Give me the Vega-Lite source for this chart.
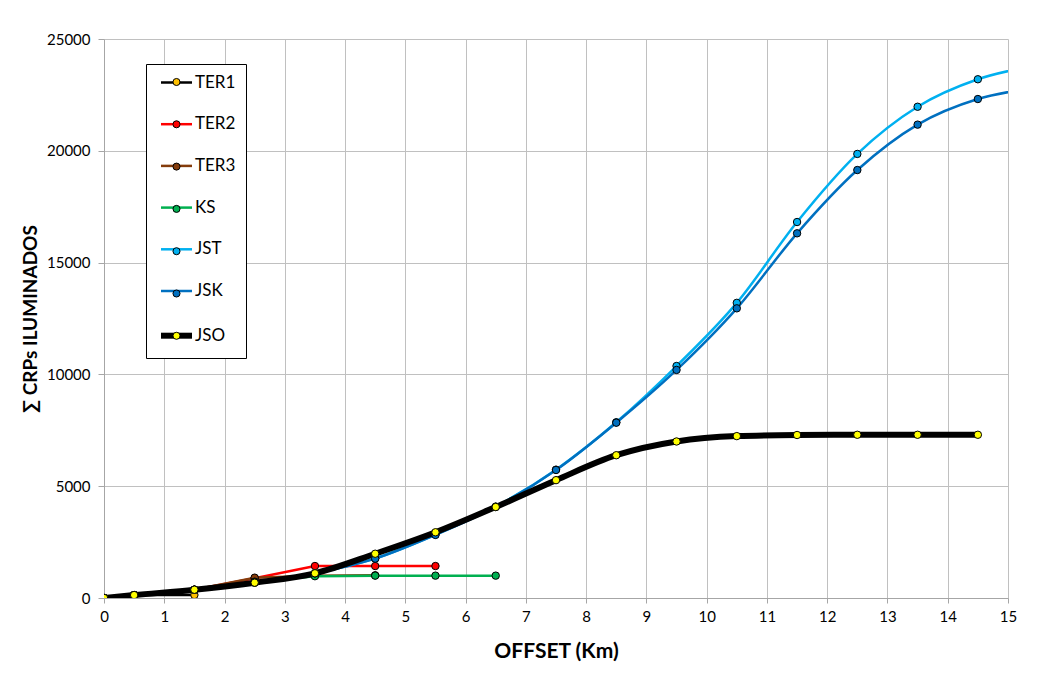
{
  "$schema": "https://vega.github.io/schema/vega-lite/v6.json",
  "width": 904,
  "height": 559,
  "autosize": {"type": "none"},
  "padding": {"left": 104, "top": 39, "right": 32, "bottom": 79},
  "background": "white",
  "config": {
    "font": "Lato",
    "view": {"stroke": null},
    "axis": {"labelFont": "Lato", "titleFont": "Lato", "labelColor": "#000", "titleColor": "#000", "gridColor": "#c0c0c0", "gridWidth": 1, "domainColor": "#a6a6a6", "tickColor": "#a6a6a6"}
  },
  "data": {
    "values": [
      {"series": "TER1", "offset": 0, "crps": 0},
      {"series": "TER1", "offset": 0.5, "crps": 130},
      {"series": "TER1", "offset": 1.5, "crps": 135},
      {"series": "TER2", "offset": 0, "crps": 0},
      {"series": "TER2", "offset": 0.5, "crps": 130},
      {"series": "TER2", "offset": 1.5, "crps": 370},
      {"series": "TER2", "offset": 2.5, "crps": 880},
      {"series": "TER2", "offset": 3.5, "crps": 1430},
      {"series": "TER2", "offset": 4.5, "crps": 1430},
      {"series": "TER2", "offset": 5.5, "crps": 1430},
      {"series": "TER3", "offset": 0, "crps": 0},
      {"series": "TER3", "offset": 0.5, "crps": 130},
      {"series": "TER3", "offset": 1.5, "crps": 370},
      {"series": "TER3", "offset": 2.5, "crps": 910},
      {"series": "TER3", "offset": 3.5, "crps": 1000},
      {"series": "TER3", "offset": 4.5, "crps": 1015},
      {"series": "KS", "offset": 0, "crps": 0},
      {"series": "KS", "offset": 0.5, "crps": 130},
      {"series": "KS", "offset": 1.5, "crps": 370},
      {"series": "KS", "offset": 2.5, "crps": 730},
      {"series": "KS", "offset": 3.5, "crps": 975},
      {"series": "KS", "offset": 4.5, "crps": 1000},
      {"series": "KS", "offset": 5.5, "crps": 1000},
      {"series": "KS", "offset": 6.5, "crps": 1000},
      {"series": "JST", "offset": 0, "crps": 0},
      {"series": "JST", "offset": 0.5, "crps": 130},
      {"series": "JST", "offset": 1.5, "crps": 370},
      {"series": "JST", "offset": 2.5, "crps": 685},
      {"series": "JST", "offset": 3.5, "crps": 1105},
      {"series": "JST", "offset": 4.5, "crps": 1770},
      {"series": "JST", "offset": 5.5, "crps": 2840},
      {"series": "JST", "offset": 6.5, "crps": 4090},
      {"series": "JST", "offset": 7.5, "crps": 5740},
      {"series": "JST", "offset": 8.5, "crps": 7860},
      {"series": "JST", "offset": 9.5, "crps": 10375},
      {"series": "JST", "offset": 10.5, "crps": 13200},
      {"series": "JST", "offset": 11.5, "crps": 16815},
      {"series": "JST", "offset": 12.5, "crps": 19860},
      {"series": "JST", "offset": 13.5, "crps": 21970},
      {"series": "JST", "offset": 14.5, "crps": 23200},
      {"series": "JST", "offset": 15.5, "crps": 23830},
      {"series": "JSK", "offset": 0, "crps": 0},
      {"series": "JSK", "offset": 0.5, "crps": 130},
      {"series": "JSK", "offset": 1.5, "crps": 370},
      {"series": "JSK", "offset": 2.5, "crps": 685},
      {"series": "JSK", "offset": 3.5, "crps": 1105},
      {"series": "JSK", "offset": 4.5, "crps": 1760},
      {"series": "JSK", "offset": 5.5, "crps": 2820},
      {"series": "JSK", "offset": 6.5, "crps": 4070},
      {"series": "JSK", "offset": 7.5, "crps": 5725},
      {"series": "JSK", "offset": 8.5, "crps": 7840},
      {"series": "JSK", "offset": 9.5, "crps": 10200},
      {"series": "JSK", "offset": 10.5, "crps": 12955},
      {"series": "JSK", "offset": 11.5, "crps": 16310},
      {"series": "JSK", "offset": 12.5, "crps": 19140},
      {"series": "JSK", "offset": 13.5, "crps": 21170},
      {"series": "JSK", "offset": 14.5, "crps": 22315},
      {"series": "JSK", "offset": 15.5, "crps": 22830},
      {"series": "JSO", "offset": 0, "crps": 0},
      {"series": "JSO", "offset": 0.5, "crps": 130},
      {"series": "JSO", "offset": 1.5, "crps": 370},
      {"series": "JSO", "offset": 2.5, "crps": 685},
      {"series": "JSO", "offset": 3.5, "crps": 1105},
      {"series": "JSO", "offset": 4.5, "crps": 1980},
      {"series": "JSO", "offset": 5.5, "crps": 2940},
      {"series": "JSO", "offset": 6.5, "crps": 4070},
      {"series": "JSO", "offset": 7.5, "crps": 5270},
      {"series": "JSO", "offset": 8.5, "crps": 6385},
      {"series": "JSO", "offset": 9.5, "crps": 7000},
      {"series": "JSO", "offset": 10.5, "crps": 7240},
      {"series": "JSO", "offset": 11.5, "crps": 7290},
      {"series": "JSO", "offset": 12.5, "crps": 7300},
      {"series": "JSO", "offset": 13.5, "crps": 7300},
      {"series": "JSO", "offset": 14.5, "crps": 7300}
    ]
  },
  "encoding": {
    "x": {
      "field": "offset", "type": "quantitative",
      "scale": {"domain": [0, 15], "nice": false, "zero": false},
      "axis": {"values": [0,1,2,3,4,5,6,7,8,9,10,11,12,13,14,15], "title": "OFFSET (Km)", "titleFontSize": 21, "titleFontWeight": "bold", "titlePadding": 16, "labelFontSize": 15, "labelPadding": 6, "tickSize": 5, "labelFlush": false}
    },
    "y": {
      "field": "crps", "type": "quantitative",
      "scale": {"domain": [0, 25000], "nice": false},
      "axis": {"values": [0, 5000, 10000, 15000, 20000, 25000], "title": "∑ CRPs  ILUMINADOS", "titleFontSize": 19, "titleFontWeight": "bold", "titlePadding": 6, "labelFontSize": 15, "labelPadding": 8, "tickSize": 6, "format": "d"}
    },
    "color": {
      "field": "series", "type": "nominal",
      "scale": {"domain": ["TER1", "TER2", "TER3", "KS", "JST", "JSK", "JSO"], "range": ["#000000", "#FF0000", "#843C0C", "#00B050", "#00B0F0", "#0070C0", "#000000"]},
      "legend": {
        "orient": "none", "legendX": 42, "legendY": 25, "title": null,
        "strokeColor": "#000", "fillColor": "#fff", "padding": 10,
        "symbolType": "stroke", "symbolSize": 961, "symbolStrokeWidth": 2.5,
        "rowPadding": 23.7, "symbolOffset": 12, "labelOffset": 10,
        "labelFont": "Lato", "labelFontSize": 17, "labelColor": "#000",
        "encode": {"symbols": {"update": {"strokeWidth": {"signal": "datum.value === 'JSO' ? 6 : 2.5"}}}}
      }
    },
    "strokeWidth": {"condition": {"test": "datum.series === 'JSO'", "value": 6}, "value": 2.5}
  },
  "layer": [
    {
      "transform": [{"filter": "indexof(['TER1','TER2','TER3','KS'], datum.series) >= 0"}],
      "mark": {"type": "line", "interpolate": "linear", "clip": true}
    },
    {
      "transform": [{"filter": "indexof(['JST','JSK','JSO'], datum.series) >= 0"}],
      "mark": {"type": "line", "interpolate": "monotone", "clip": true}
    },
    {
      "mark": {"type": "point", "filled": true, "size": 55, "stroke": "#000", "strokeWidth": 1, "opacity": 1, "clip": true},
      "encoding": {
        "color": null,
        "strokeWidth": null,
        "fill": {
          "field": "series", "type": "nominal",
          "scale": {"domain": ["TER1", "TER2", "TER3", "KS", "JST", "JSK", "JSO"], "range": ["#FFC000", "#FF0000", "#843C0C", "#00B050", "#00B0F0", "#0070C0", "#FFFF00"]},
          "legend": {
            "orient": "top-left", "offset": 23, "title": null,
            "padding": 10, "symbolType": "circle", "symbolSize": 50,
            "symbolStrokeColor": "#000", "symbolStrokeWidth": 1,
            "clipHeight": 20, "rowPadding": 22.3, "symbolOffset": 31,
            "labelExpr": "''", "labelFontSize": 17,
            "encode": {"symbols": {"update": {"stroke": {"value": "#000"}, "strokeWidth": {"value": 1}}}}
          }
        }
      }
    }
  ]
}
